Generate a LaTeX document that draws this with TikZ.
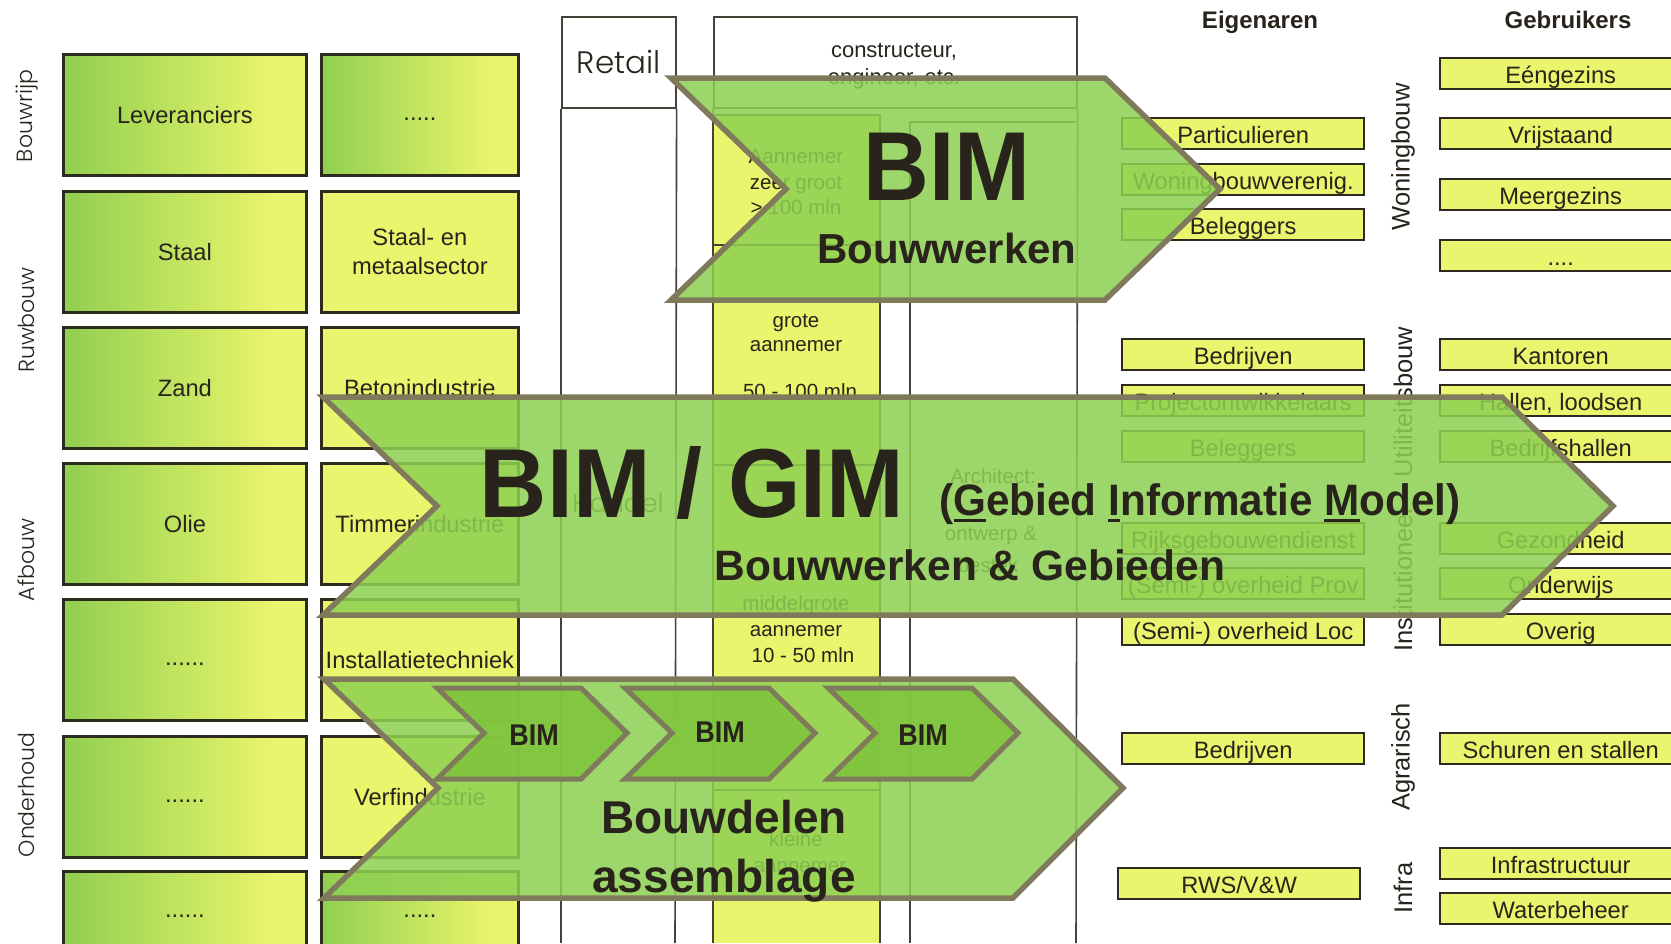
\documentclass[tikz,border=0pt]{standalone}
\usepackage{fontspec}
\setmainfont{Liberation Sans}
\IfFontExistsTF{Poppins Light}{\newfontfamily\geo{Poppins Light}}{\newfontfamily\geo{Poppins}}
\definecolor{yel}{RGB}{233,245,108}
\definecolor{grn}{RGB}{146,208,80}
\definecolor{bord}{RGB}{47,42,32}
\definecolor{linec}{RGB}{70,66,58}
\definecolor{arrline}{RGB}{128,122,92}
\definecolor{arrfill}{RGB}{142,208,82}
\definecolor{chevfill}{RGB}{126,196,60}
\definecolor{txt}{RGB}{40,36,28}
\pgfdeclarehorizontalshading{gy}{100bp}{color(0bp)=(grn); color(26bp)=(grn); color(68bp)=(yel); color(100bp)=(yel)}
\newcommand{\myul}[1]{\setbox0\hbox{#1}\rlap{\rule[-7pt]{\wd0}{3.5pt}}\box0}
\tikzset{
  bigbox/.style={draw=bord, line width=2.8pt, minimum width=243pt, minimum height=121pt,
    anchor=north west, inner sep=0pt, align=center, text=txt, font=\fontsize{23.7}{29}\selectfont},
  gbox/.style={bigbox, shading=gy},
  ybox/.style={bigbox, fill=yel},
  sbox/.style={draw=bord, line width=2.4pt, fill=yel, minimum height=31pt, anchor=north west,
    inner sep=0pt, text=txt, text height=22pt, text depth=2pt, font=\fontsize{23.7}{28}\selectfont},
  ebox/.style={sbox, minimum width=242pt},
  ubox/.style={sbox, minimum width=241pt},
  glab/.style={rotate=90, font=\geo\fontsize{22}{22}\selectfont, text=txt, inner sep=0pt},
  vlab/.style={rotate=90, font=\fontsize{25.5}{26}\selectfont, text=txt, inner sep=0pt},
  col/.style={draw=linec, line width=1.6pt},
  mtxt/.style={font=\fontsize{20.5}{25}\selectfont, text=txt, inner sep=0pt, anchor=base},
  hdr/.style={font=\bfseries\fontsize{24}{24}\selectfont, text=txt, inner sep=0pt, anchor=base},
  arrowshape/.style={draw=arrline, line width=5.5pt, fill=arrfill, fill opacity=0.86, line join=miter},
  chevshape/.style={draw=arrline, line width=5pt, fill=chevfill, fill opacity=0.85, line join=miter},
  atxt/.style={text=txt, inner sep=0pt, anchor=base}
}
\begin{document}
\begin{tikzpicture}[x=1pt,y=-1pt]
\useasboundingbox (0,0) rectangle (1671,943);
\fill[white] (0,0) rectangle (1671,943);
\clip (0,0) rectangle (1671,943);

% left phase labels
\node[glab] (lbBouwrijp) at (27,116) {Bouwrijp};
\node[glab] (lbRuwbouw) at (26,320) {Ruwbouw};
\node[glab] (lbAfbouw) at (26,560) {Afbouw};
\node[glab] (lbOnderhoud) at (26,795) {Onderhoud};

% left column boxes
\node[gbox] (L1) at (62,53) {Leveranciers};
\node[gbox] (L2) at (62,190) {Staal};
\node[gbox] (L3) at (62,326) {Zand};
\node[gbox] (L4) at (62,462) {Olie};
\node[gbox] (L5) at (62,598) {\strut......};
\node[gbox] (L6) at (62,735) {\strut......};
\node[gbox, minimum height=80pt] (L7) at (62,870) {\strut......};

% second column boxes
\node[gbox, minimum width=197pt] (R1) at (320,53) {\strut.....};
\node[ybox, minimum width=197pt] (R2) at (320,190) {Staal- en\\metaalsector};
\node[ybox, minimum width=197pt] (R3) at (320,326) {Betonindustrie};
\node[ybox, minimum width=197pt] (R4) at (320,462) {Timmerindustrie};
\node[ybox, minimum width=197pt] (R5) at (320,598) {Installatietechniek};
\node[ybox, minimum width=197pt] (R6) at (320,735) {Verfindustrie};
\node[gbox, minimum width=197pt, minimum height=80pt] (R7) at (320,870) {\strut.....};

% Retail column
\node[draw=linec, line width=1.6pt, minimum width=114pt, minimum height=91pt, anchor=north west,
  inner sep=0pt, font=\geo\fontsize{31}{31}\selectfont, text=txt] (retail) at (561,16) {Retail};
\draw[col] (retail.south west) -- (561,943);
\draw[col] (retail.south east) -- (675,943);
\node[font=\geo\fontsize{26}{26}\selectfont, text=txt, inner sep=0pt, anchor=base] (handel) at (618,512) {Handel};

% constructeur / aannemer / architect columns
\node[draw=linec, line width=1.6pt, minimum width=363pt, minimum height=91pt, anchor=north west] (cons) at (713,16) {};
\draw[col] (cons.south west) -- (713,943);
\draw[col] (cons.south east) -- (1076,943);
\node[mtxt, font=\fontsize{22}{25}\selectfont] (cons1) at (894,57) {constructeur,};
\node[mtxt, font=\fontsize{22}{25}\selectfont] (cons2) at (894,84) {engineer, etc.};

\fill[yel] (713,115) rectangle (880,943);
\draw[col] (713,943) -- (713,115) -- (880,115) -- (880,943);
\draw[col] (713,245) -- (880,245);
\draw[col] (713,465) -- (880,465);
\draw[col] (713,790) -- (880,790);
\draw[col] (910,943) -- (910,122) -- (1076,122);

\node[mtxt] (zg1) at (796,163) {Aannemer};
\node[mtxt] (zg2) at (796,189) {zeer groot};
\node[mtxt] (zg3) at (796,214) {> 100 mln};
\node[mtxt] (gr1) at (796,327) {grote};
\node[mtxt] (gr2) at (796,351) {aannemer};
\node[mtxt] (gr3) at (800,398) {50 - 100 mln};
\node[mtxt] (mg1) at (796,610) {middelgrote};
\node[mtxt] (mg2) at (796,636) {aannemer};
\node[mtxt] (mg3) at (803,662) {10 - 50 mln};
\node[mtxt] (kl1) at (796,846) {kleine};
\node[mtxt] (kl2) at (800,872) {aannemer};
\node[mtxt] (ar1) at (993,483) {Architect:};
\node[mtxt] (ar2) at (991,540) {ontwerp \&};
\node[mtxt] (ar3) at (988,572) {bestek};

% headers
\node[hdr] (hEig) at (1260,28) {Eigenaren};
\node[hdr] (hGeb) at (1568,28) {Gebruikers};

% right-side category labels
\node[vlab] (vWon) at (1403,157) {Woningbouw};
\node[vlab] (vUti) at (1403,402) {Utiliteitsbouw};
\node[vlab] (vIns) at (1403,580) {Institutioneel};
\node[vlab] (vAgr) at (1403,757) {Agrarisch};
\node[vlab] (vInf) at (1403,888) {Infra};

% Eigenaren boxes
\node[ebox] (e1) at (1121,117) {Particulieren};
\node[ebox] (e2) at (1121,163) {Woningbouwverenig.};
\node[ebox] (e3) at (1121,208) {Beleggers};
\node[ebox] (e4) at (1121,338) {Bedrijven};
\node[ebox] (e5) at (1121,384) {Projectontwikkelaars};
\node[ebox] (e6) at (1121,430) {Beleggers};
\node[ebox] (e7) at (1121,522) {Rijksgebouwendienst};
\node[ebox] (e8) at (1121,567) {(Semi-) overheid Prov};
\node[ebox] (e9) at (1121,613) {(Semi-) overheid Loc};
\node[ebox] (e10) at (1121,732) {Bedrijven};
\node[ebox] (e11) at (1117,867) {RWS/V\&W};

% Gebruikers boxes
\node[ubox] (u1) at (1439,57) {Eéngezins};
\node[ubox] (u2) at (1439,117) {Vrijstaand};
\node[ubox] (u3) at (1439,178) {Meergezins};
\node[ubox] (u4) at (1439,239) {....};
\node[ubox] (u5) at (1439,338) {Kantoren};
\node[ubox] (u6) at (1439,384) {Hallen, loodsen};
\node[ubox] (u7) at (1439,430) {Bedrijfshallen};
\node[ubox] (u8) at (1439,522) {Gezondheid};
\node[ubox] (u9) at (1439,567) {Onderwijs};
\node[ubox] (u10) at (1439,613) {Overig};
\node[ubox] (u11) at (1439,732) {Schuren en stallen};
\node[ubox] (u12) at (1439,847) {Infrastructuur};
\node[ubox] (u13) at (1439,892) {Waterbeheer};

% Arrow 1: BIM Bouwwerken
\draw[arrowshape] (671,78) -- (1105,78) -- (1220,189) -- (1105,300) -- (671,300) -- (786,189) -- cycle;
\node[atxt, font=\bfseries\fontsize{98}{98}\selectfont, xscale=0.93] (a1bim) at (947,200) {BIM};
\node[atxt, font=\bfseries\fontsize{42}{42}\selectfont] (a1txt) at (947,263) {Bouwwerken};

% Arrow 2: BIM / GIM
\draw[arrowshape] (323,397) -- (1502,397) -- (1613,506) -- (1502,615) -- (323,615) -- (437,506) -- cycle;
\node[atxt, font=\bfseries\fontsize{98}{98}\selectfont, xscale=0.95] (a2bim) at (692,517) {BIM / GIM};
\node[atxt, font=\bfseries\fontsize{44}{44}\selectfont, xscale=0.96] (a2gim) at (1200,515)
  {(\myul{G}ebied \myul{I}nformatie \myul{M}odel)};
\node[atxt, font=\bfseries\fontsize{42.5}{42.5}\selectfont] (a2txt) at (970,580) {Bouwwerken \& Gebieden};

% Arrow 3: Bouwdelen assemblage
\draw[arrowshape] (324,679) -- (1013,679) -- (1123,788) -- (1013,898) -- (324,898) -- (438,788) -- cycle;
\foreach \cx/\nm in {437/c1, 625/c2, 828/c3}{
  \draw[chevshape] (\cx,688) -- ++(144,0) -- ++(46,45) -- ++(-46,46) -- ++(-144,0) -- ++(47,-46) -- cycle;
}
\node[atxt, font=\bfseries\fontsize{30}{30}\selectfont, xscale=0.9] (b1) at (534,745) {BIM};
\node[atxt, font=\bfseries\fontsize{30}{30}\selectfont, xscale=0.9] (b2) at (720,742) {BIM};
\node[atxt, font=\bfseries\fontsize{30}{30}\selectfont, xscale=0.9] (b3) at (923,745) {BIM};
\node[atxt, font=\bfseries\fontsize{46}{46}\selectfont] (a3t1) at (724,833) {Bouwdelen};
\node[atxt, font=\bfseries\fontsize{46}{46}\selectfont] (a3t2) at (724,892) {assemblage};
\end{tikzpicture}
\end{document}
